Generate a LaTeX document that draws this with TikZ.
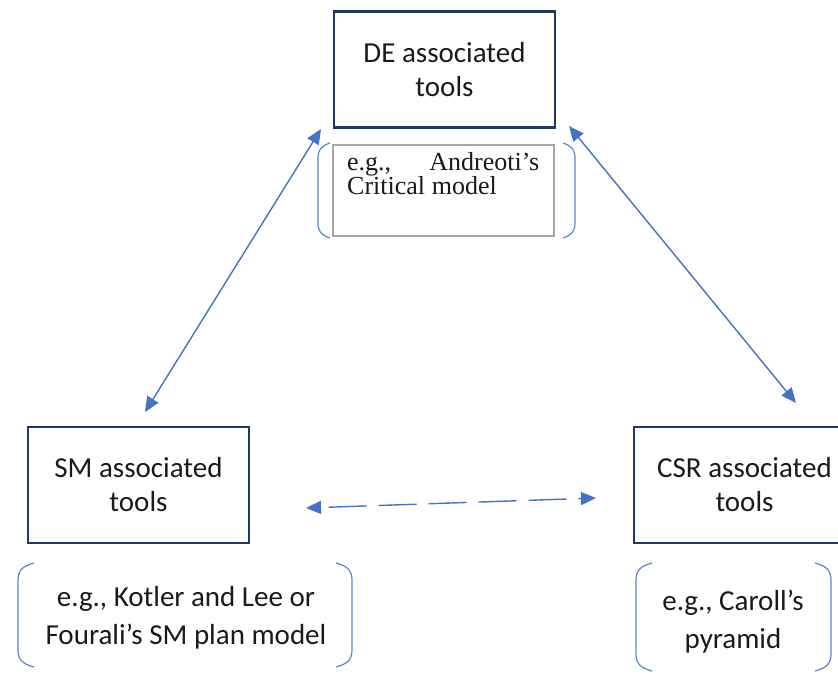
\documentclass[tikz,border=0pt]{standalone}
\usepackage{fontspec}
\setmainfont{Carlito}
\newfontfamily\serifx{Liberation Serif}
\usetikzlibrary{arrows.meta}
\definecolor{navy}{HTML}{1F3864}
\definecolor{arrblue}{HTML}{4472C4}
\definecolor{brblue}{HTML}{5B84CC}
\definecolor{gbox}{HTML}{A6A6A6}
\definecolor{txt}{HTML}{1A1A1A}
\tikzset{
  toolbox/.style={draw=navy, line width=2.8pt, minimum width=221pt, minimum height=116pt, inner sep=0pt, align=center, text=txt, font=\fontsize{29}{34}\selectfont},
  exbox/.style={draw=gbox, line width=1.8pt, minimum width=221pt, minimum height=91pt, inner sep=0pt, text=txt},
  extext/.style={align=center, text=txt, font=\fontsize{29}{38}\selectfont, inner sep=0pt},
  brk/.style={draw=brblue, line width=1.2pt},
  conn/.style={draw=arrblue, line width=1.4pt, {Triangle[length=15pt,width=13pt]}-{Triangle[length=15pt,width=13pt]}},
  dashconn/.style={conn, dash pattern=on 38pt off 12pt, dash phase=-8pt}
}
\begin{document}
\begin{tikzpicture}[x=1pt,y=-1pt]
\useasboundingbox (0,0) rectangle (838,673);
\clip (0,0) rectangle (838,673);
% main boxes
\node[toolbox] (de) at (444.5,69.5) {DE associated\\tools};
\node[toolbox] (sm) at (138.5,485) {SM associated\\tools};
\node[toolbox] (csr) at (744.5,485) {CSR associated\\tools};
% DE example box
\node[exbox] (deex) at (443.5,190.5) {};
\node[anchor=north west, inner sep=0pt, text=txt, font=\serifx\fontsize{26}{24}\selectfont, text width=192pt] (deextxt) at (347,152) {e.g.,\hfill Andreoti’s\\Critical\hspace{-2pt} model};
% example texts
\node[extext] (smex) at (186,617.5) {e.g., Kotler and Lee or\\Fourali’s SM plan model};
\node[extext] (csrex) at (733,621.5) {e.g., Caroll’s\\pyramid};
% brackets
\draw[brk] (330,143) .. controls (321,146) and (318,150) .. (318,158) -- (318,223) .. controls (318,231) and (321,235) .. (330,238);
\draw[brk] (563,143) .. controls (572,146) and (575,150) .. (575,158) -- (575,223) .. controls (575,231) and (572,235) .. (563,238);
\draw[brk] (34,563) .. controls (23,566) and (18,570) .. (18,580) -- (18,650) .. controls (18,660) and (23,664) .. (34,667);
\draw[brk] (336,563) .. controls (347,566) and (352,570) .. (352,580) -- (352,650) .. controls (352,660) and (347,664) .. (336,667);
\draw[brk] (652,563) .. controls (641,566) and (636,570) .. (636,580) -- (636,654) .. controls (636,664) and (641,668) .. (652,671);
\draw[brk] (815,563) .. controls (826,566) and (831,570) .. (831,580) -- (831,654) .. controls (831,664) and (826,668) .. (815,671);
% connector end points
\coordinate (deL) at (321,129);
\coordinate (smT) at (145,412);
\coordinate (deR) at (569,126);
\coordinate (csrT) at (796,403);
\coordinate (smR) at (306,508);
\coordinate (csrL) at (596,498);
\draw[conn] (deL) -- (smT);
\draw[conn] (deR) -- (csrT);
\draw[dashconn] (smR) -- (csrL);
\end{tikzpicture}
\end{document}
